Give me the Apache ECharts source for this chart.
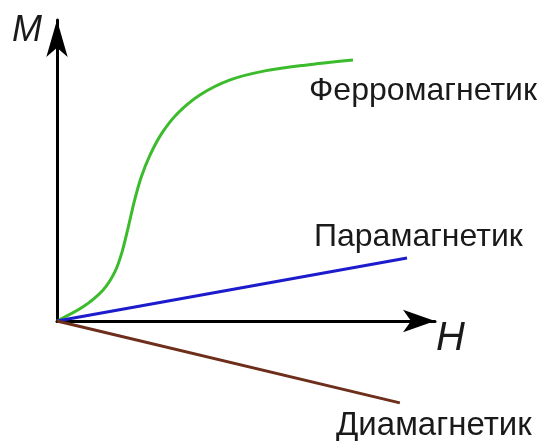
<!DOCTYPE html>
<html><head><meta charset="utf-8">
<script src="https://cdn.jsdelivr.net/npm/echarts@6/dist/echarts.min.js"></script>
<style>html,body{margin:0;padding:0;background:#fff}#c{width:539px;height:441px}</style>
</head><body><div id="c"></div>
<script>
var ferroH = [0, 0.69, 1.22, 1.53, 1.72, 1.88, 2.04, 2.22, 2.46, 2.78, 3.20, 3.78, 4.58, 5.50, 6.56, 7.83];
var ferroM = [0, 0.47, 1.03, 1.63, 2.29, 3.09, 3.95, 4.75, 5.51, 6.25, 6.91, 7.51, 8.01, 8.31, 8.50, 8.67];
var paraH = [0, 9.26];
var paraM = [0, 2.09];
var diaH = [0, 9.07];
var diaM = [0, -2.72];
var names = ['Ферромагнетик', 'Парамагнетик', 'Диамагнетик'];
var axisNames = ['H', 'M'];

function pairs(a, b) { return a.map(function (v, i) { return [v, b[i]]; }); }

var chart = echarts.init(document.getElementById('c'));
var font = 'Liberation Sans, Arial, sans-serif';
chart.setOption({
  animation: false,
  grid: { left: 57, top: 20, right: 104, bottom: 120 },
  xAxis: {
    type: 'value', min: 0, max: 10,
    axisLine: { show: true, onZero: false, symbol: ['none', 'arrow'], symbolSize: [17, 32],
      lineStyle: { color: '#000', width: 3 } },
    axisTick: { show: false }, axisLabel: { show: false }, splitLine: { show: false }
  },
  yAxis: {
    type: 'value', min: 0, max: 10,
    axisLine: { show: true, onZero: false, symbol: ['none', 'arrow'], symbolSize: [16, 37],
      lineStyle: { color: '#000', width: 3 } },
    axisTick: { show: false }, axisLabel: { show: false }, splitLine: { show: false }
  },
  series: [
    { name: names[0], type: 'line', data: pairs(ferroH, ferroM), smooth: 0.3, showSymbol: false, clip: false,
      lineStyle: { color: '#3cbb2c', width: 3 }, z: 3 },
    { name: names[1], type: 'line', data: pairs(paraH, paraM), showSymbol: false, clip: false,
      lineStyle: { color: '#1c1ccc', width: 3 }, z: 3 },
    { name: names[2], type: 'line', data: pairs(diaH, diaM), showSymbol: false, clip: false,
      lineStyle: { color: '#6e2e1c', width: 3 }, z: 3 }
  ],
  graphic: [
    { type: 'text', left: 12, top: 13, style: { text: axisNames[1], font: 'italic 36px ' + font, lineHeight: 36, fill: '#1a1a1a' } },
    { type: 'text', left: 436, top: 319, style: { text: axisNames[0], font: 'italic 40px ' + font, lineHeight: 40, fill: '#1a1a1a' } },
    { type: 'text', left: 309, top: 75, style: { text: names[0], font: '32px ' + font, lineHeight: 32, fill: '#1a1a1a' } },
    { type: 'text', left: 314, top: 221, style: { text: names[1], font: '32px ' + font, lineHeight: 32, fill: '#1a1a1a' } },
    { type: 'text', left: 336, top: 409, style: { text: names[2], font: '33px ' + font, lineHeight: 33, fill: '#1a1a1a' } }
  ]
});
</script></body></html>
